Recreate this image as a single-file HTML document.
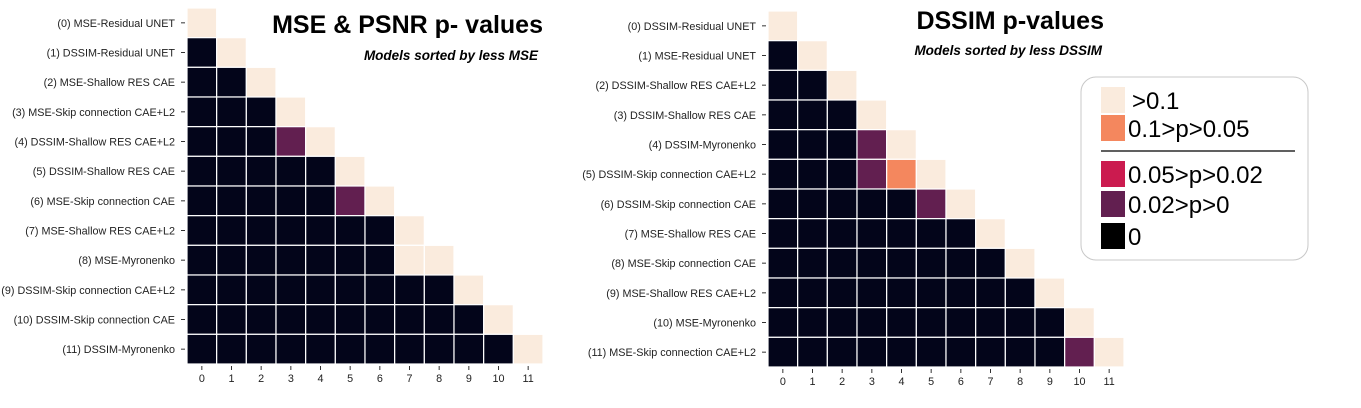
<!DOCTYPE html>
<html><head><meta charset="utf-8"><style>
html,body{margin:0;padding:0;background:#fff;}
svg{display:block;font-family:"Liberation Sans","DejaVu Sans",sans-serif;}
</style></head><body>
<svg id="s" width="1361" height="408"></svg>
<script>
const leftLabels=["(0) MSE-Residual UNET","(1) DSSIM-Residual UNET","(2) MSE-Shallow RES CAE","(3) MSE-Skip connection CAE+L2","(4) DSSIM-Shallow RES CAE+L2","(5) DSSIM-Shallow RES CAE","(6) MSE-Skip connection CAE","(7) MSE-Shallow RES CAE+L2","(8) MSE-Myronenko","(9) DSSIM-Skip connection CAE+L2","(10) DSSIM-Skip connection CAE","(11) DSSIM-Myronenko"];
const rightLabels=["(0) DSSIM-Residual UNET","(1) MSE-Residual UNET","(2) DSSIM-Shallow RES CAE+L2","(3) DSSIM-Shallow RES CAE","(4) DSSIM-Myronenko","(5) DSSIM-Skip connection CAE+L2","(6) DSSIM-Skip connection CAE","(7) MSE-Shallow RES CAE","(8) MSE-Skip connection CAE","(9) MSE-Shallow RES CAE+L2","(10) MSE-Myronenko","(11) MSE-Skip connection CAE+L2"];
const xTicks=["0","1","2","3","4","5","6","7","8","9","10","11"];
// category codes: 0 = 0, 1 = 0.02>p>0, 2 = 0.05>p>0.02, 3 = 0.1>p>0.05, 4 = >0.1
const leftSpecial=[[4,3,1],[6,5,1],[8,7,4]];
const rightSpecial=[[4,3,1],[5,3,1],[5,4,3],[6,5,1],[11,10,1]];
const legendLabels=[">0.1","0.1>p>0.05","0.05>p>0.02","0.02>p>0","0"];
const palette=["#03051a","#621f50","#cb1b4f","#f4875e","#faebdd"];
const legendColors=["#faebdd","#f4875e","#cb1b4f","#621f50","#000000"];

const NS="http://www.w3.org/2000/svg";
const svg=document.getElementById('s');
function mk(tag,attrs,parent){const e=document.createElementNS(NS,tag);for(const k in attrs)e.setAttribute(k,attrs[k]);(parent||svg).appendChild(e);return e;}

function buildMatrix(special){
  const n=12,m=[];
  for(let i=0;i<n;i++){m.push([]);for(let j=0;j<=i;j++)m[i].push(i===j?4:0);}
  special.forEach(s=>{m[s[0]][s[1]]=s[2];});
  return m;
}

function heatmap(x0,y0,w,labels,special,prefix){
  const n=labels.length,cs=w/n;
  const xs=j=>x0+j*cs, ys=i=>y0+i*cs;
  const g=mk('g',{});
  
  
  const m=buildMatrix(special);
  for(let i=0;i<n;i++)for(let j=0;j<=i;j++){
    const r=mk('rect',{x:xs(j),y:ys(i),width:cs,height:cs,fill:palette[m[i][j]],stroke:'#fff','stroke-width':1.2},g);
    
    
  }
  labels.forEach((l,i)=>{
    const yy=ys(i)+cs/2;
    mk('line',{x1:x0-6,x2:x0-2,y1:yy,y2:yy,stroke:'#333','stroke-width':1},g);
    const t=mk('text',{x:x0-12,y:yy+4,'text-anchor':'end','font-size':10.8,fill:'#222'},g);
    t.textContent=l;
    
    
  });
  xTicks.forEach((l,j)=>{
    const xx=xs(j)+cs/2;
    mk('line',{x1:xx,x2:xx,y1:y0+w+2,y2:y0+w+6,stroke:'#333','stroke-width':1},g);
    const t=mk('text',{x:xx,y:y0+w+18,'text-anchor':'middle','font-size':10.8,fill:'#222'},g);
    t.textContent=l;
    
    
  });
}
heatmap(187,8,356,leftLabels,leftSpecial,'mse');
heatmap(768,11,356,rightLabels,rightSpecial,'dssim');

function text(x,y,s,attrs,name){const t=mk('text',Object.assign({x:x,y:y},attrs));t.textContent=s;return t;}
text(543,33,"MSE & PSNR p- values",{'text-anchor':'end','font-size':25,'font-weight':'bold',fill:'#000'},'mse-title');
text(538,60,"Models sorted by less MSE",{'text-anchor':'end','font-size':13.5,'font-weight':'bold','font-style':'italic',fill:'#000'},'mse-subtitle');
text(1104,29,"DSSIM p-values",{'text-anchor':'end','font-size':25,'font-weight':'bold',fill:'#000'},'dssim-title');
text(1102,55,"Models sorted by less DSSIM",{'text-anchor':'end','font-size':13.5,'font-weight':'bold','font-style':'italic',fill:'#000'},'dssim-subtitle');

const lg=mk('g',{});


mk('rect',{x:1081,y:77,width:227,height:183,rx:15,ry:15,fill:'#fff',stroke:'#c8c8c8','stroke-width':1},lg);
const rowsY=[87,115,161,191,223];
legendLabels.forEach((l,i)=>{
  const r=mk('rect',{x:1101,y:rowsY[i],width:24,height:26,fill:legendColors[i]},lg);
  
  
  const t=mk('text',{x:i===0?1132:1128,y:rowsY[i]+22,'font-size':24,fill:'#000'},lg);
  t.textContent=l;
  
  
});
mk('line',{x1:1101,x2:1295,y1:151,y2:151,stroke:'#000','stroke-width':1.2},lg);
</script>
</body></html>
